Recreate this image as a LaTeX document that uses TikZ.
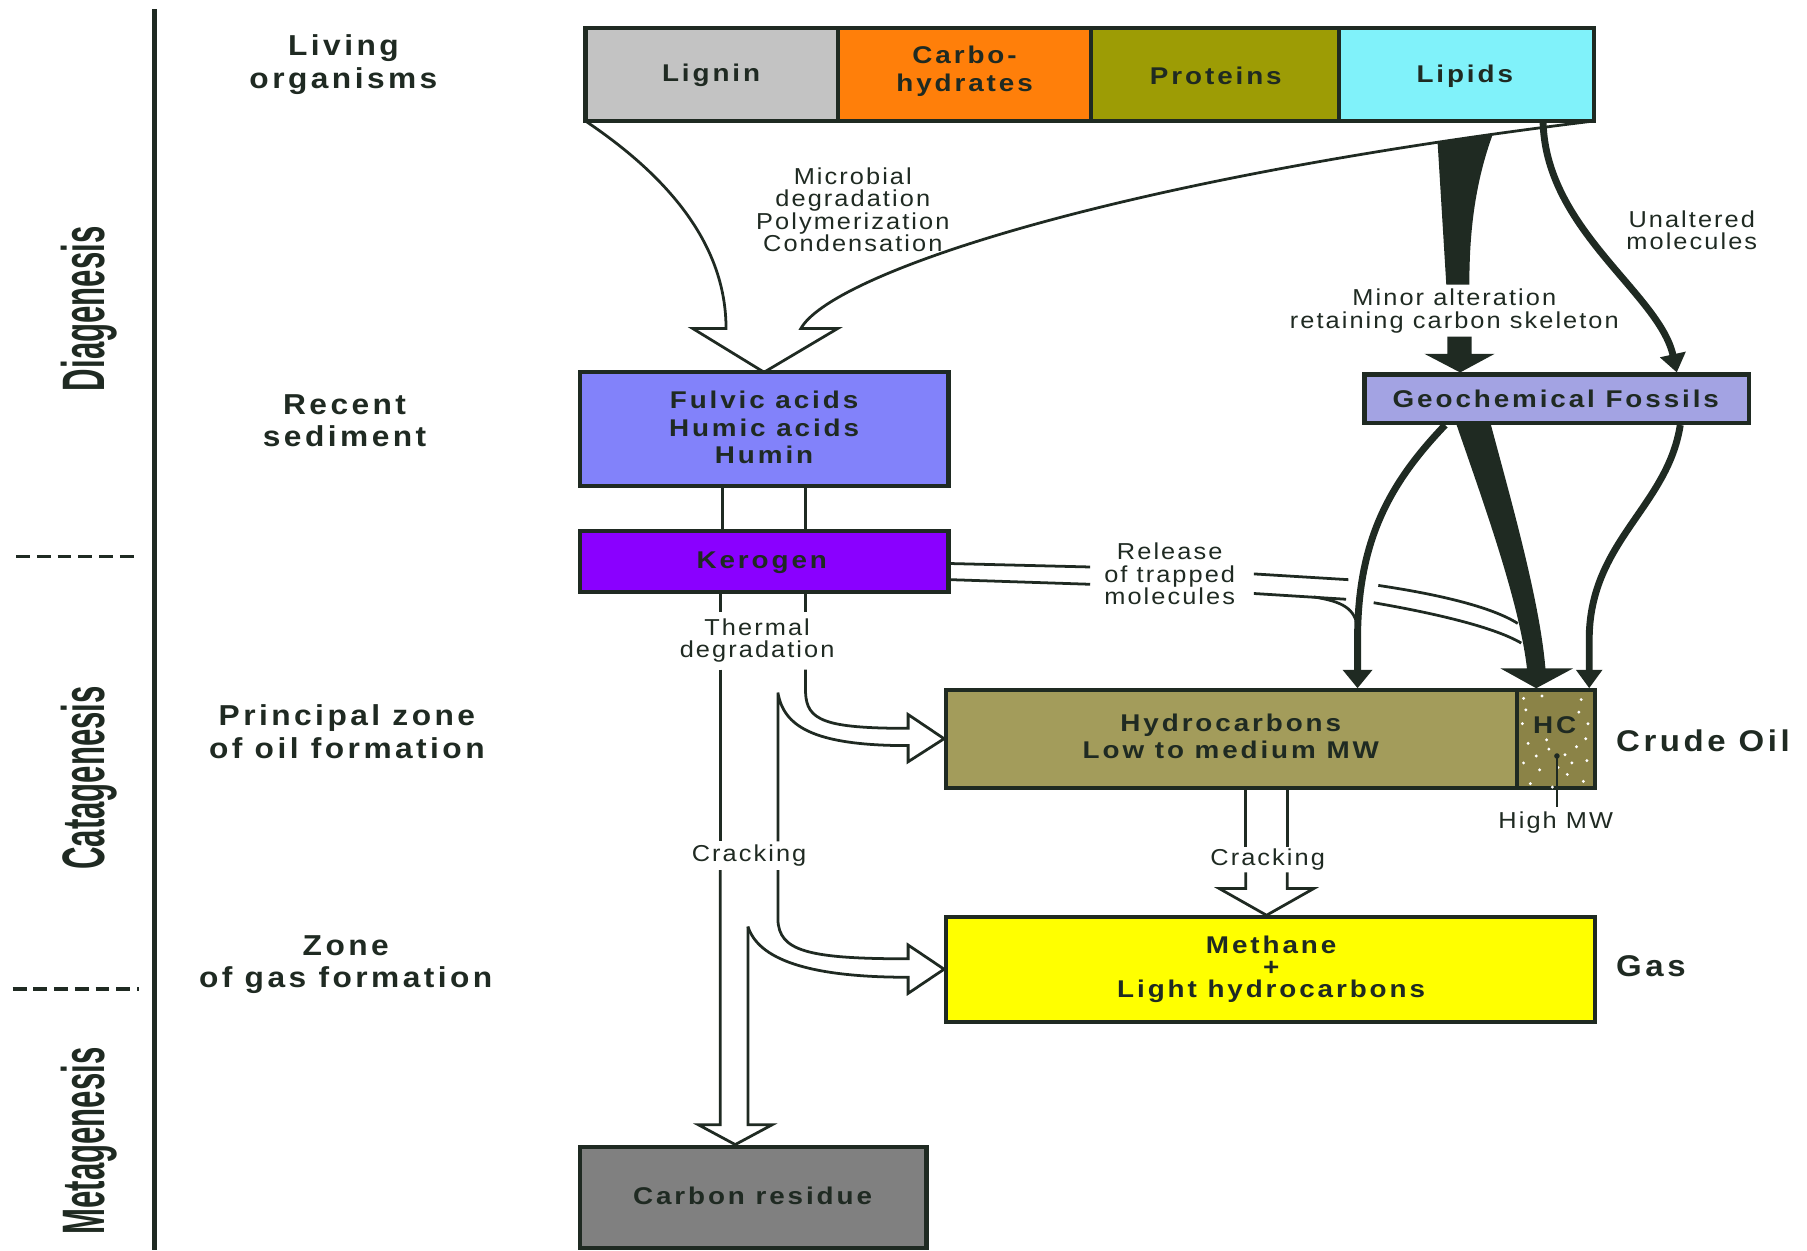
\documentclass[tikz,border=0pt]{standalone}
\usepackage{fontspec}
\setmainfont{Liberation Sans}
\newfontfamily\sidefont[FakeStretch=1.1,LetterSpace=12]{Liberation Sans}
\newfontfamily\vertfont[FakeStretch=0.52]{Liberation Sans}
\newfontfamily\boxfont[FakeStretch=1.15,LetterSpace=12]{Liberation Sans}
\newfontfamily\lblfont[FakeStretch=1.1,LetterSpace=9]{Liberation Sans}
\usetikzlibrary{arrows.meta,fit}
\definecolor{ink}{HTML}{1F2A22}
\definecolor{cLignin}{HTML}{C3C3C3}
\definecolor{cCarbo}{HTML}{FF7F0A}
\definecolor{cProt}{HTML}{9D9C05}
\definecolor{cLipid}{HTML}{80F2FA}
\definecolor{cFulvic}{HTML}{8282FA}
\definecolor{cKero}{HTML}{8A00FF}
\definecolor{cGeo}{HTML}{A3A3E3}
\definecolor{cHydro}{HTML}{A39C5B}
\definecolor{cHC}{HTML}{8B8347}
\definecolor{cMeth}{HTML}{FFFF00}
\definecolor{cCarbon}{HTML}{808080}
\tikzset{
  box/.style={draw=ink, line width=1.8pt, inner sep=0pt},
  boxtxt/.style={text=ink, align=center, inner sep=0pt,
    font=\boxfont\bfseries\fontsize{10.5}{12}\selectfont},
  side/.style={text=ink, align=center, font=\sidefont\bfseries\fontsize{12.5}{14}\selectfont},
  vert/.style={text=ink, rotate=90, font=\vertfont\bfseries\fontsize{26}{26}\selectfont},
  lbl/.style={text=ink, align=center, inner sep=1pt, font=\lblfont\fontsize{10}{9.7}\selectfont},
  big/.style={text=ink, anchor=west, inner sep=0pt, font=\sidefont\bfseries\fontsize{13}{14}\selectfont},
  hollow/.style={draw=ink, line width=1.2pt, line join=miter},
  band/.style={draw=ink, line width=1.2pt},
  solidarrow/.style={draw=ink, line width=3pt},
}
\begin{document}
\begin{tikzpicture}[x=0.5pt,y=-0.5pt]
\useasboundingbox (0,0) rectangle (1568,1085);

% left time scale
\coordinate (ruletop) at (134,8);
\coordinate (rulebot) at (134,1085);
\draw[ink, line width=2.3pt] (ruletop) -- (rulebot);
\coordinate (d1a) at (14,483); \coordinate (d1b) at (121,483);
\coordinate (d2a) at (11,858); \coordinate (d2b) at (121,858);
\draw[ink, line width=1.5pt, dash pattern=on 6pt off 3pt] (d1a) -- (d1b);
\draw[ink, line width=1.5pt, dash pattern=on 6pt off 3pt] (d2a) -- (d2b);
\node[vert] (dia) at (77,268) {Diagenesis};
\node[vert] (cat) at (77,675) {Catagenesis};
\node[vert] (meta) at (77,990) {Metagenesis};

\node[side] (living) at (298,56) {Living\\organisms};
\node[side] (recent) at (299,365) {Recent\\sediment};
\node[side] (oilzone) at (301,635) {Principal zone\\of oil formation};
\node[side] (gaszone) at (300,837) {Zone\\of gas formation};

% microbial hollow arrow
\draw[hollow] (508,105) .. controls (590,160) and (630,220) .. (630,285) -- (601,285)
  -- (663,323) -- (727,285) -- (695,285) .. controls (720,240) and (950,158) .. (1383,105);

% tapered black band (minor alteration)
\begin{scope}
\clip (695,285) .. controls (720,240) and (950,158) .. (1383,105) -- (1600,105) -- (1600,400) -- (695,400) -- cycle;
\fill[ink] (1246,100) -- (1255,247) -- (1275,247) .. controls (1275,200) and (1280,150) .. (1302,100) -- cycle;
\end{scope}

% boxes
\node[box, fill=cLignin, fit={(508,24)(727,105)}] (lignin) {};
\node[box, fill=cCarbo, fit={(727,24)(947,105)}] (carbo) {};
\node[box, fill=cProt, fit={(947,24)(1162,105)}] (prot) {};
\node[box, fill=cLipid, fit={(1162,24)(1383,105)}] (lipids) {};
\node[boxtxt] (tLignin) at (617,65) {Lignin};
\node[boxtxt] (tCarbo) at (837,62) {Carbo-\\hydrates};
\node[boxtxt] (tProt) at (1055,66) {Proteins};
\node[boxtxt] (tLipids) at (1271,66) {Lipids};

\node[box, fill=cFulvic, fit={(503,323)(823,422)}] (fulvic) {};
\node[boxtxt] (tFulvic) at (663,371) {Fulvic acids\\Humic acids\\Humin};
\node[box, fill=cKero, fit={(503,461)(823,514)}] (kerogen) {};
\node[boxtxt] (tKerogen) at (661,488) {Kerogen};
\node[box, fill=cGeo, fit={(1184,325)(1518,367)}] (geo) {};
\node[boxtxt] (tGeo) at (1350,346) {Geochemical Fossils};
\node[box, fill=cHydro, fit={(821,599)(1316,684)}] (hydro) {};
\node[boxtxt] (tHydro) at (1068,639) {Hydrocarbons\\Low to medium MW};
\node[box, fill=cHC, fit={(1316,599)(1384,684)}] (hc) {};
\node[box, fill=cMeth, fit={(821,796)(1384,887)}] (methane) {};
\node[boxtxt, font=\boxfont\bfseries\fontsize{10.5}{9.6}\selectfont] (tMethane) at (1103,841) {Methane\\+\\Light hydrocarbons};
\node[box, fill=cCarbon, fit={(503,995)(804,1083)}] (carbon) {};
\node[boxtxt] (tCarbon) at (653,1038) {Carbon residue};

% stipple in HC
\foreach \px/\py in {1322/606,1338/604,1372/607,1326/645,1344/650,1368/648,1377/660,1322/662,1336/668,1360/672,1374/678,1328/680,1347/683,1321/628,1378/628,1364/662,1333/656,1352/666,1370/618,1324/616,1342/642,1358/655,1376/641}
  \fill[white] (\px,\py) circle (0.7pt);
\node[boxtxt] (hclabel) at (1349,629) {HC};
\coordinate (hmtop) at (1351,656);
\coordinate (hmbot) at (1351,700);
\draw[ink, line width=0.8pt] (hmtop) -- (hmbot);
\fill[ink] (hmtop) circle (1.2pt);
\node[lbl] (highmw) at (1350,714) {High MW};
\node[big] (crude) at (1402,643) {Crude Oil};
\node[big] (gas) at (1402,838) {Gas};

% minor alteration arrow head part
\fill[ink] (1256,292) -- (1277,292) -- (1277,307) -- (1297,307) -- (1267,0 |- geo.north) -- (1236,307) -- (1256,307) -- cycle;

% unaltered molecules
\draw[solidarrow, -{Triangle[width=11pt,length=8pt]}] (lipids.south -| 1339,0) .. controls (1342,200) and (1440,255) .. (1455,0 |- geo.north);

% from geochemical fossils
\draw[solidarrow, -{Triangle[width=12.5pt,length=8pt]}] (geo.south -| 1254,0) .. controls (1205,420) and (1178,470) .. (1178,555) -- (1178,0 |- hydro.north);
\draw[solidarrow, -{Triangle[width=11pt,length=8pt]}] (geo.south -| 1458,0) .. controls (1447,440) and (1379,470) .. (1379,555) -- (1379,0 |- hc.north);
\fill[ink] (1263,366) .. controls (1285,430) and (1318,520) .. (1325,580) -- (1302,580) -- (1333,0 |- hc.north)
  -- (1365,580) -- (1341,580) .. controls (1336,520) and (1310,430) .. (1293,366) -- cycle;

% release of trapped molecules
\draw[band] (kerogen.east |- 0,489) -- (946,492);
\draw[band] (kerogen.east |- 0,503) -- (946,507);
\node[lbl] (release) at (1015,498) {Release\\of trapped\\molecules};
\draw[band] (1088,498) -- (1170,503);
\draw[band] (1088,515) -- (1168,520);
\draw[band] (1140,518) .. controls (1165,522) and (1176,528) .. (1178,545);
\draw[band] (1196,508) .. controls (1250,516) and (1295,527) .. (1317,541);
\draw[band] (1192,523) .. controls (1250,533) and (1298,545) .. (1320,558);

% fulvic -> kerogen
\draw[band] (627,0 |- fulvic.south) -- (627,0 |- kerogen.north);
\draw[band] (699,0 |- fulvic.south) -- (699,0 |- kerogen.north);

% kerogen -> down
\draw[band] (625,0 |- kerogen.south) -- (625,531);
\draw[band] (699,0 |- kerogen.south) -- (699,531);
\node[lbl] (thermal) at (657,556) {Thermal\\degradation};
\draw[band] (625,581) -- (625,730);
\draw[hollow] (699,581) -- (699,601) .. controls (700,625) and (715,632) .. (788,632) -- (788,620)
  -- (hydro.west |- 0,641) -- (788,661) -- (788,647) .. controls (705,647) and (680,630) .. (675,601) -- (675,730);
\node[lbl] (crackL) at (650,742) {Cracking};
\draw[band] (625,755) -- (625,976) -- (606,976) -- (638,0 |- carbon.north) -- (670,976) -- (649,976) -- (649,804);
\draw[hollow] (675,755) -- (675,798) .. controls (676,825) and (700,832) .. (788,832) -- (788,820)
  -- (methane.west |- 0,841) -- (788,862) -- (788,848) .. controls (700,848) and (658,832) .. (649,804);

% cracking oil -> gas
\draw[band] (1081,0 |- hydro.south) -- (1081,735);
\draw[band] (1117,0 |- hydro.south) -- (1117,735);
\node[lbl] (crackR) at (1100,746) {Cracking};
\draw[hollow] (1081,757) -- (1081,771) -- (1058,771) -- (1099,0 |- methane.north) -- (1140,771) -- (1117,771) -- (1117,757);

% labels
\node[lbl] (microbial) at (740,182) {Microbial\\degradation\\Polymerization\\Condensation};
\node[lbl] (minor) at (1262,270) {Minor alteration\\retaining carbon skeleton};
\node[lbl] (unalt) at (1468,200) {Unaltered\\molecules};
\end{tikzpicture}
\end{document}
